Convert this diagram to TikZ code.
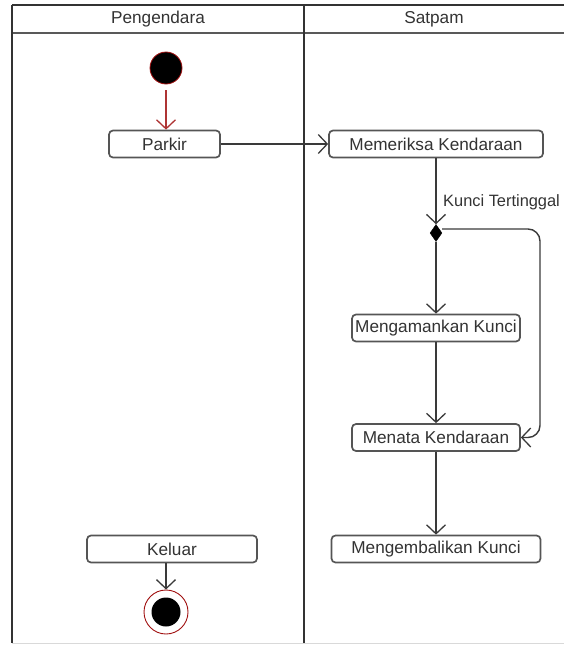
\documentclass[tikz,border=0pt]{standalone}
\usepackage{fontspec}
\setmainfont{Liberation Sans}
\usetikzlibrary{arrows.meta,shapes.geometric}
\definecolor{lnc}{HTML}{3A3A3A}
\definecolor{boxc}{HTML}{555555}
\definecolor{startred}{HTML}{A01010}
\tikzset{
  act/.style={draw=boxc, line width=1.7pt, rounded corners=4pt, fill=white,
    minimum height=27pt, inner sep=0pt, font=\fontsize{17.2}{20}\selectfont, text=black!80},
  flow/.style={draw=lnc, line width=1.4pt, -{Straight Barb[length=9pt,width=19pt,line width=1.3pt]}},
  lane/.style={draw=black!80, line width=1.4pt},
  hdr/.style={font=\fontsize{17.2}{20}\selectfont, text=black!80}
}
\begin{document}
\begin{tikzpicture}[x=1pt,y=-1pt]
\useasboundingbox (0,0) rectangle (564,645);
\clip (0,0) rectangle (564,645);
% swimlanes
\draw[lane] (12,5) -- (570,5);
\draw[lane, draw=black!65] (12,33) -- (570,33);
\draw[lane] (12,5) -- (12,643);
\draw[lane] (304,5) -- (304,643);
\draw[draw=black!15, line width=0.8pt] (12,643) -- (564,643);
\node[hdr] (h1) at (158,19) {Pengendara};
\node[hdr] (h2) at (434,19) {Satpam};
% nodes
\node[circle, fill=black, draw=startred, line width=0.8pt, minimum size=32pt, inner sep=0pt] (start) at (166,68) {};
\node[act, minimum width=111pt] (parkir) at (164.5,144) {Parkir};
\node[act, minimum width=214pt] (periksa) at (436,144) {Memeriksa Kendaraan};
\node[diamond, fill=black, draw=black, minimum width=12pt, minimum height=17pt, inner sep=0pt, aspect=0.7] (dec) at (436,233) {};
\node[act, minimum width=168pt] (aman) at (436,328) {Mengamankan Kunci};
\node[act, minimum width=168pt] (tata) at (436,437.5) {Menata Kendaraan};
\node[act, minimum width=209pt] (kembali) at (436,549) {Mengembalikan Kunci};
\node[act, minimum width=170pt] (keluar) at (172,549) {Keluar};
\node[circle, draw=startred, line width=0.9pt, minimum size=44pt, inner sep=0pt] (end) at (166,612) {};
\node[circle, fill=black, minimum size=29pt, inner sep=0pt] (endin) at (end.center) {};
\node[anchor=west, inner sep=0pt, font=\fontsize{16.4}{19}\selectfont, text=black!80] (lbl) at (443,202) {Kunci Tertinggal};
% edges
\draw[flow, draw=startred!85] ([yshift=-6pt]start.south) -- (start.south |- parkir.north);
\draw[flow] (parkir.east) -- (periksa.west);
\draw[flow] (periksa.south) -- (dec.north);
\draw[flow] (dec.south) -- (aman.north);
\draw[flow] (aman.south) -- (tata.north);
\draw[draw=lnc, line width=1.4pt, rounded corners=12pt, -{Straight Barb[length=9pt,width=19pt,line width=1.3pt]}] ([yshift=4pt]dec.east) -- (540,229) -- (540,437.5) -- (tata.east);
\draw[flow] (tata.south) -- (kembali.north);
\draw[flow] (end.north |- keluar.south) -- (end.north);
\end{tikzpicture}
\end{document}
